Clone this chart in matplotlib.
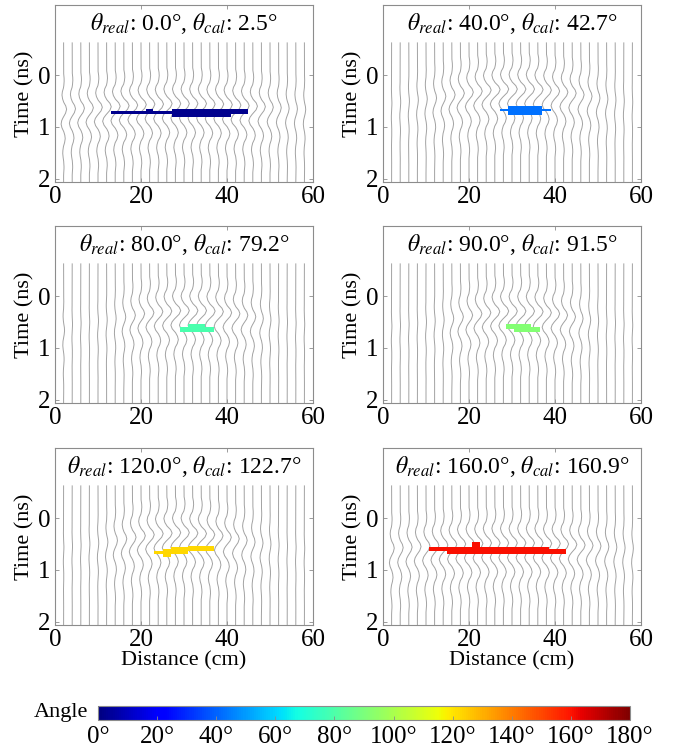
import numpy as np
import matplotlib as mpl
mpl.use("Agg")
import matplotlib.pyplot as plt
from matplotlib.patches import Rectangle

# ---------------------------------------------------------------------------
# Style
# ---------------------------------------------------------------------------
mpl.rcParams['font.family'] = ['Liberation Serif', 'DejaVu Serif']
mpl.rcParams['mathtext.fontset'] = 'stix'
mpl.rcParams['font.size'] = 16

LABEL_FS = 16
TICK_FS = 18
TITLE_FS = 17
TRACE_COLOR = "#a2a2a2"
FRAME_COLOR = "#8c8c8c"
GAIN = 1.55         # wiggle scaling (cm per unit amplitude)

# ---------------------------------------------------------------------------
# Data
# ---------------------------------------------------------------------------
trace_x = np.arange(2, 60, 2)          # antenna positions (cm), 29 traces

# reflected pulse (relative amplitude), one sample every 0.07 ns
pulse = [0, 0.14, 0.2, 0.14, 0, -0.39, -0.55, -0.39, 0, 0.7, 1.0, 0.7,
         0, -0.6, -0.85, -0.6, 0, 0.39, 0.55, 0.39, 0, -0.21, -0.3, -0.21,
         0, 0.1, 0.15, 0.1, 0]
pulse_dt = 0.07
pulse_center = 12

theta_real = [0.0, 40.0, 80.0, 90.0, 120.0, 160.0]
theta_cal = [2.5, 42.7, 79.2, 91.5, 122.7, 160.9]

# arrival time of the pulse on each trace (ns)
arrival = [
    [0.80, 0.79, 0.78, 0.77, 0.76, 0.75, 0.74, 0.73, 0.72, 0.71, 0.70, 0.70, 0.69, 0.69, 0.69,
     0.69, 0.69, 0.70, 0.70, 0.71, 0.72, 0.73, 0.74, 0.75, 0.76, 0.77, 0.78, 0.79, 0.80],
    [0.68, 0.66, 0.64, 0.62, 0.60, 0.58, 0.55, 0.52, 0.49, 0.47, 0.45, 0.43, 0.42, 0.41, 0.41,
     0.41, 0.41, 0.42, 0.43, 0.45, 0.47, 0.49, 0.52, 0.55, 0.58, 0.60, 0.62, 0.64, 0.66],
    [0.80, 0.68, 0.66, 0.64, 0.62, 0.60, 0.57, 0.54, 0.51, 0.48, 0.46, 0.44, 0.43, 0.42, 0.42,
     0.42, 0.42, 0.43, 0.44, 0.46, 0.48, 0.51, 0.54, 0.57, 0.60, 0.62, 0.64, 0.66, 0.68],
    [0.72, 0.70, 0.68, 0.66, 0.64, 0.62, 0.60, 0.57, 0.54, 0.51, 0.48, 0.46, 0.44, 0.43, 0.43,
     0.43, 0.43, 0.44, 0.46, 0.48, 0.51, 0.54, 0.57, 0.60, 0.62, 0.64, 0.66, 0.68, 0.70],
    [0.70, 0.68, 0.66, 0.64, 0.62, 0.60, 0.57, 0.54, 0.51, 0.48, 0.46, 0.44, 0.43, 0.42, 0.42,
     0.43, 0.44, 0.46, 0.48, 0.51, 0.54, 0.57, 0.60, 0.62, 0.64, 0.66, 0.68, 0.70, 0.72],
    [0.72, 0.71, 0.70, 0.69, 0.68, 0.67, 0.66, 0.65, 0.64, 0.63, 0.63, 0.62, 0.62, 0.62, 0.62,
     0.62, 0.62, 0.62, 0.63, 0.63, 0.64, 0.65, 0.66, 0.67, 0.68, 0.69, 0.70, 0.71, 0.72],
]

# relative wiggle strength on each trace
amplitude = [
    [0.45, 0.50, 0.55, 0.60, 0.65, 0.70, 0.75, 0.80, 0.80, 0.80, 0.80, 0.80, 0.80, 0.80, 0.80,
     0.80, 0.80, 0.80, 0.80, 0.80, 0.80, 0.75, 0.70, 0.60, 0.50, 0.40, 0.30, 0.25, 0.20],
    [0.05, 0.08, 0.10, 0.15, 0.20, 0.30, 0.40, 0.50, 0.60, 0.65, 0.70, 0.75, 0.80, 0.80, 0.80,
     0.80, 0.80, 0.80, 0.75, 0.70, 0.65, 0.60, 0.50, 0.40, 0.30, 0.20, 0.12, 0.08, 0.05],
    [0.15, 0.05, 0.05, 0.05, 0.08, 0.10, 0.15, 0.30, 0.45, 0.55, 0.65, 0.70, 0.75, 0.80, 0.80,
     0.80, 0.80, 0.80, 0.75, 0.70, 0.65, 0.55, 0.45, 0.30, 0.15, 0.08, 0.05, 0.05, 0.05],
    [0.05, 0.05, 0.05, 0.05, 0.08, 0.10, 0.15, 0.30, 0.45, 0.55, 0.65, 0.70, 0.75, 0.80, 0.80,
     0.80, 0.80, 0.80, 0.75, 0.70, 0.60, 0.50, 0.35, 0.20, 0.10, 0.06, 0.05, 0.05, 0.05],
    [0.05, 0.05, 0.05, 0.08, 0.12, 0.20, 0.35, 0.45, 0.55, 0.65, 0.70, 0.75, 0.80, 0.80, 0.80,
     0.80, 0.80, 0.75, 0.70, 0.65, 0.55, 0.45, 0.35, 0.25, 0.15, 0.08, 0.05, 0.05, 0.05],
    [0.40, 0.45, 0.50, 0.55, 0.60, 0.65, 0.70, 0.75, 0.80, 0.80, 0.80, 0.80, 0.80, 0.80, 0.80,
     0.80, 0.80, 0.80, 0.80, 0.80, 0.75, 0.70, 0.65, 0.55, 0.45, 0.35, 0.25, 0.20, 0.15],
]

# detected reflector segments: (x start, x end, t top, t bottom)
segments = [
    [(13.1, 27.2, 0.69, 0.75), (21.2, 22.9, 0.65, 0.71), (27.1, 41.0, 0.65, 0.81),
     (41.0, 45.0, 0.65, 0.75)],
    [(27.1, 39.0, 0.65, 0.69), (29.1, 37.0, 0.60, 0.76)],
    [(29.0, 37.0, 0.60, 0.69), (30.9, 35.0, 0.54, 0.63)],
    [(28.6, 34.4, 0.54, 0.64), (30.5, 36.5, 0.59, 0.69)],
    [(23.0, 25.5, 0.64, 0.69), (25.0, 27.0, 0.60, 0.75), (27.0, 30.9, 0.56, 0.69),
     (30.9, 37.0, 0.53, 0.64)],
    [(10.8, 15.0, 0.55, 0.64), (14.9, 38.7, 0.56, 0.69), (20.7, 22.6, 0.47, 0.57),
     (38.7, 42.6, 0.60, 0.69)],
]

cbar_ticks = [0, 20, 40, 60, 80, 100, 120, 140, 160, 180]

# ---------------------------------------------------------------------------
# Figure
# ---------------------------------------------------------------------------
W, H = 683, 749
fig = plt.figure(figsize=(W / 100, H / 100), dpi=100)

col_left = [55, 383]
row_top = [5, 226, 448]
ax_w, ax_h = 258, 177

t_grid = np.arange(-0.62, 2.07, 0.005)
pulse_t = (np.arange(len(pulse)) - pulse_center) * pulse_dt
cmap = plt.cm.jet

for k in range(6):
    r, c = divmod(k, 2)
    ax = fig.add_axes([col_left[c] / W, 1 - (row_top[r] + ax_h) / H, ax_w / W, ax_h / H])

    for i, x0 in enumerate(trace_x):
        disp = GAIN * amplitude[k][i] * np.interp(t_grid, arrival[k][i] + pulse_t, pulse,
                                                  left=0, right=0)
        ax.plot(x0 + disp, t_grid, color=TRACE_COLOR, lw=0.7, zorder=1)

    color = cmap(theta_cal[k] / 180)
    for (xa, xb, ta, tb) in segments[k]:
        ax.add_patch(Rectangle((xa, ta), xb - xa, tb - ta, facecolor=color,
                               edgecolor='none', zorder=3))

    ax.text(0.5, 0.893,
            r"$\theta_{real}$" + f": {theta_real[k]:.1f}°, " + r"$\theta_{cal}$" + f": {theta_cal[k]:.1f}°",
            transform=ax.transAxes, ha='center', va='center', fontsize=TITLE_FS)

    ax.set_xlim(0, 60)
    ax.set_ylim(2.06, -1.35)
    ax.set_xticks([0, 20, 40, 60])
    ax.set_yticks([0, 1, 2])
    ax.tick_params(direction='in', length=3, width=0.6, color=FRAME_COLOR,
                   top=True, right=True, labelsize=TICK_FS, pad=3)
    for sp in ax.spines.values():
        sp.set_color(FRAME_COLOR)
        sp.set_linewidth(0.8)
    ax.set_ylabel("Time (ns)", fontsize=LABEL_FS, labelpad=3)
    if r == 2:
        ax.set_xlabel("Distance (cm)", fontsize=LABEL_FS, labelpad=0)

# colour bar for the orientation angle
cax = fig.add_axes([98 / W, 1 - 720 / H, 532 / W, 14 / H])
sm = mpl.cm.ScalarMappable(norm=mpl.colors.Normalize(0, 180), cmap=cmap)
cb = fig.colorbar(sm, cax=cax, orientation='horizontal')
cb.set_ticks(cbar_ticks)
cb.set_ticklabels([f"{v}°" for v in cbar_ticks])
cb.outline.set_edgecolor(FRAME_COLOR)
cb.outline.set_linewidth(0.8)
cax.tick_params(direction='in', length=3, width=0.6, color=FRAME_COLOR,
                labelsize=TICK_FS, pad=4)
fig.text(88 / W, 1 - 713 / H, "Angle", ha='right', va='center', fontsize=LABEL_FS)

fig.savefig("out.png", dpi=100)
